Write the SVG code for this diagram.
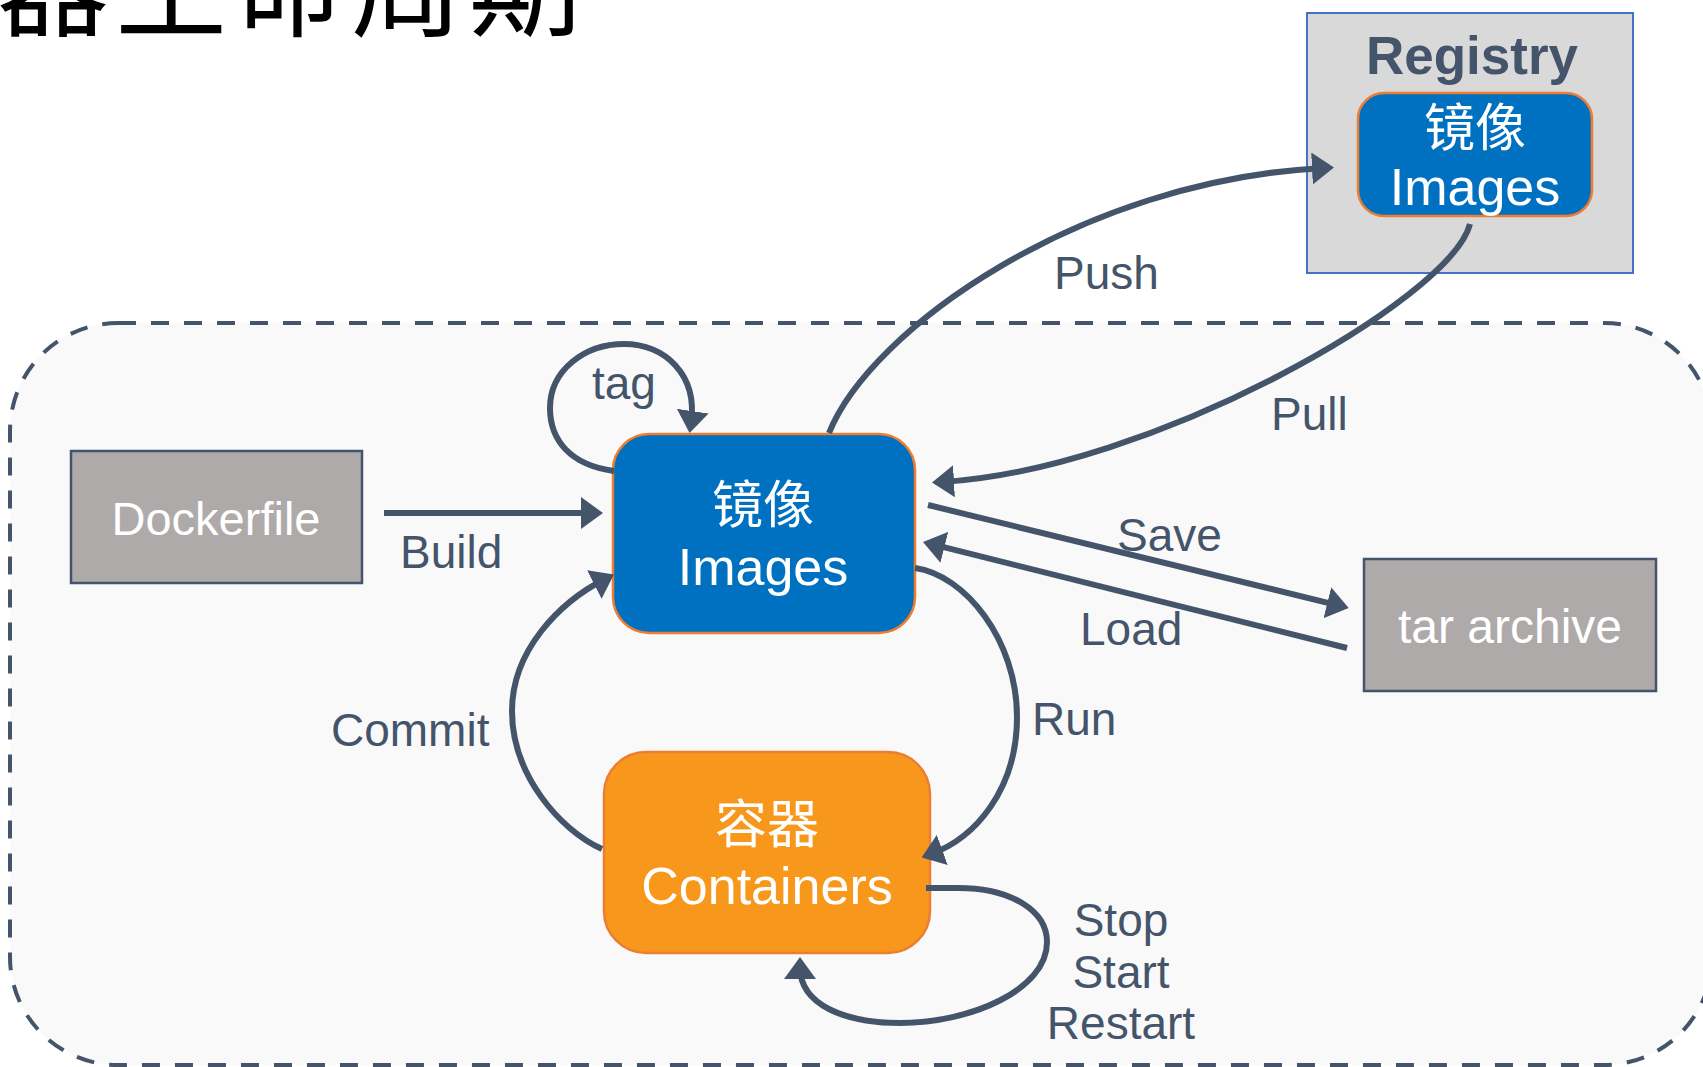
<svg xmlns="http://www.w3.org/2000/svg" width="1703" height="1067" viewBox="0 0 1703 1067">
<defs>
<style>
.lbl{font-family:"Liberation Sans",Arial,sans-serif;font-size:46px;fill:#44546a}
.conn{fill:none;stroke:#44546a;stroke-width:6}
.gray{fill:#aeaaaa;stroke:#44546a;stroke-width:2.5}
.img{fill:#0070c0;stroke:#ed7d31;stroke-width:2.5}
.wt{font-family:"Liberation Sans",Arial,sans-serif;fill:#ffffff;text-anchor:middle}
.cjk{font-family:"Noto Sans CJK SC","Noto Sans CJK TC",sans-serif;fill:#ffffff;text-anchor:middle}
</style>
<marker id="ah" viewBox="0 0 22 32" refX="12" refY="16" markerWidth="22" markerHeight="32" markerUnits="userSpaceOnUse" orient="auto">
<path d="M0,0 L22,16 L0,32 z" fill="#44546a"/>
</marker>
</defs>
<rect x="0" y="0" width="1703" height="1067" fill="#ffffff"/>
<g id="host">
<rect x="10" y="323" width="1702" height="742" rx="108" ry="108" fill="#f9f9f9" stroke="#44546a" stroke-width="4" stroke-dasharray="18 15"/>
</g>
<text id="title" x="-3" y="28" font-family="Noto Sans CJK SC,sans-serif" font-size="112" letter-spacing="6" fill="#000000">器生命周期</text>
<g id="registry">
<rect x="1307" y="13" width="326" height="260" fill="#d9d9d9" stroke="#4472c4" stroke-width="2"/>
<text x="1472" y="74" text-anchor="middle" font-family="Liberation Sans,Arial,sans-serif" font-weight="bold" font-size="53" fill="#44546a">Registry</text>
</g>
<g id="registry-images">
<rect class="img" x="1358" y="93" width="234" height="123" rx="26"/>
<text class="cjk" x="1475" y="146" font-size="51">镜像</text>
<text class="wt" x="1475" y="205" font-size="52">Images</text>
</g>
<g id="dockerfile">
<rect class="gray" x="71" y="451" width="291" height="132"/>
<text class="wt" x="216" y="535" font-size="47">Dockerfile</text>
</g>
<g id="images">
<rect class="img" x="613" y="434" width="302" height="199" rx="36"/>
<text class="cjk" x="763" y="523" font-size="51">镜像</text>
<text class="wt" x="763" y="585" font-size="52">Images</text>
</g>
<g id="tar">
<rect class="gray" x="1364" y="559" width="292" height="132"/>
<text class="wt" x="1510" y="643" font-size="48">tar archive</text>
</g>
<g id="containers">
<rect x="604" y="752" width="326" height="201" rx="42" fill="#f7981d" stroke="#ed7d31" stroke-width="2.5"/>
<text class="cjk" x="767" y="843" font-size="52">容器</text>
<text class="wt" x="767" y="904" font-size="52">Containers</text>
</g>
<g id="connectors">
<path class="conn" marker-end="url(#ah)" d="M384 513 L593 513"/>
<path class="conn" marker-end="url(#ah)" d="M614 471 C570 465 550 440 550 408 C550 370 585 344 624 344 C665 344 698 375 691 423"/>
<path class="conn" marker-end="url(#ah)" d="M829 433 C870 330 1080 180 1324 168"/>
<path class="conn" marker-end="url(#ah)" d="M1470 224 C1450 300 1150 470 942 482"/>
<path class="conn" marker-end="url(#ah)" d="M928 505 L1339 605.6"/>
<path class="conn" marker-end="url(#ah)" d="M1347 648 L932.7 544.4"/>
<path class="conn" marker-end="url(#ah)" d="M602 849 C560 830 512 775 512 711 C512 650 560 602 605 579"/>
<path class="conn" marker-end="url(#ah)" d="M915 568 C965 575 1017 640 1017 717 C1017 790 975 838 931 854"/>
<path class="conn" marker-end="url(#ah)" d="M926 888 L958 888 C1010 888 1047 910 1047 942 C1047 990 970 1023 900 1023 C845 1023 800 1005 800 967"/>
</g>
<g id="labels">
<text class="lbl" x="400" y="568">Build</text>
<text class="lbl" x="592" y="399">tag</text>
<text class="lbl" x="1054" y="289">Push</text>
<text class="lbl" x="1271" y="430">Pull</text>
<text class="lbl" x="1117" y="551">Save</text>
<text class="lbl" x="1080" y="645">Load</text>
<text class="lbl" x="331" y="746">Commit</text>
<text class="lbl" x="1032" y="735">Run</text>
<text class="lbl" x="1121" y="936" text-anchor="middle">Stop</text>
<text class="lbl" x="1121" y="988" text-anchor="middle">Start</text>
<text class="lbl" x="1121" y="1039" text-anchor="middle">Restart</text>
</g>
</svg>
